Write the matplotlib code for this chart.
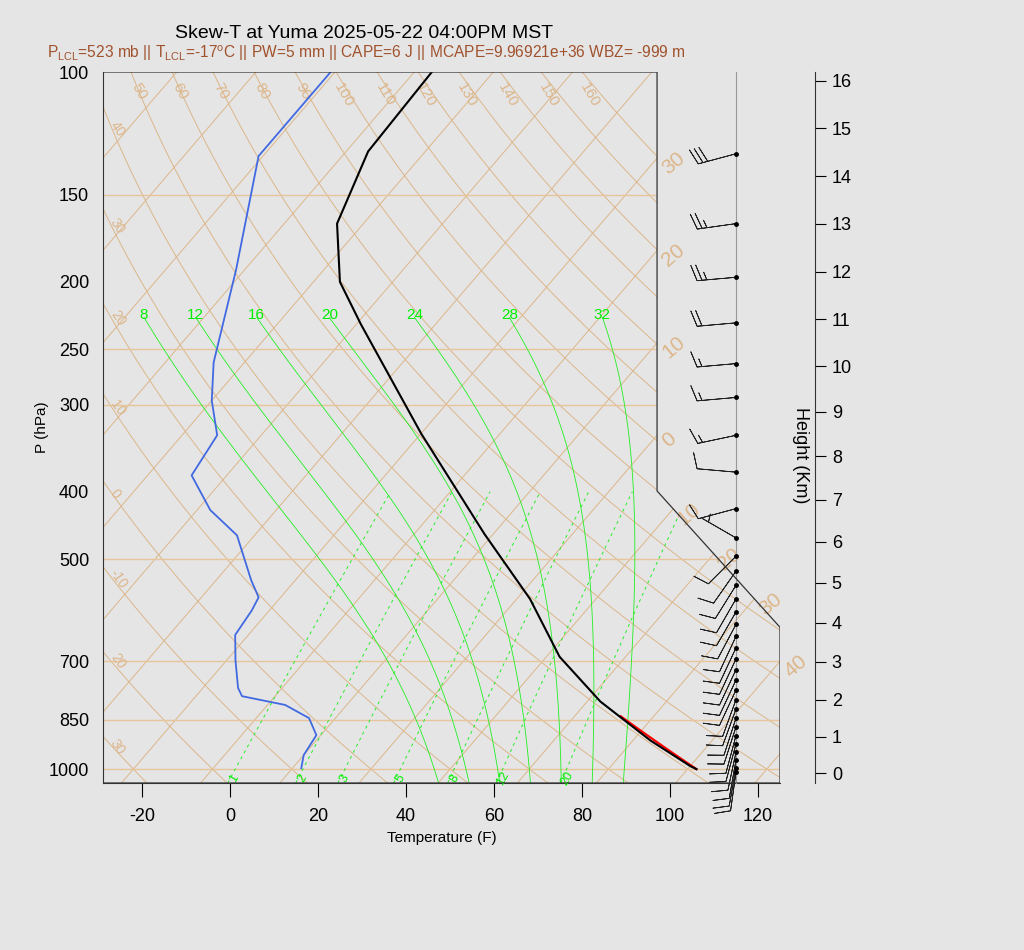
import numpy as np
import matplotlib
matplotlib.use("Agg")
import matplotlib.pyplot as plt
from matplotlib.patches import Polygon

plt.rcParams['font.family'] = ['Liberation Sans', 'DejaVu Sans']

# ---------------- data ----------------
temp_p = [100, 130, 165, 200, 230, 330, 460, 570, 690, 800, 910, 990, 1000]
temp_f = [-90, -89, -82, -70, -57, -22, 12, 35, 53, 71, 90, 104, 106]
dew_p = [100, 132, 192, 261, 296, 332, 379, 425, 462, 536, 567, 592, 642, 698, 765, 786, 809, 845, 894, 955, 997]
dew_f = [-113, -113, -96, -83, -76, -68, -66, -55, -44, -32, -27, -26, -25, -20, -14, -11.5, 0, 8, 13, 14, 16]
wind_p = [131, 165, 197, 229, 262, 293, 332, 375, 423, 466, 495, 520, 545, 570, 595, 620, 645, 670, 695, 720, 745, 770,
          795, 820, 845, 870, 895, 920, 945, 970, 995, 1010]
wind_spd = [30, 25, 25, 20, 15, 15, 15, 10, 10, 5, 10, 10, 10, 10, 10, 10, 10, 10, 10, 10, 10, 10,
            10, 10, 10, 10, 10, 10, 10, 10, 10, 10]
wind_dir = [255, 262, 265, 265, 265, 265, 258, 275, 255, 300, 225, 215, 212, 210, 210, 208, 205, 205, 205, 205, 205, 205,
            200, 200, 198, 198, 195, 195, 192, 190, 190, 188]
press_ticks = [100, 150, 200, 250, 300, 400, 500, 700, 850, 1000]
hline_p = [150, 250, 300, 500, 700, 850, 1000]
temp_ticks = [-20, 0, 20, 40, 60, 80, 100, 120]
height_km = list(range(0, 17))
theta_c = list(range(-30, 170, 10))
theta_top_labels = [50, 60, 70, 80, 90, 100, 110, 120, 130, 140, 150, 160]
theta_left_labels = {40: "40", 30: "30", 20: "20", 10: "10", 0: "0", -10: "-10", -20: "20", -30: "30"}
iso_c = list(range(-110, 60, 10))
iso_label_c = [-30, -20, -10, 0, 10, 20, 30, 40]
moist_c = [8, 12, 16, 20, 24, 28, 32]
mix_gkg = [1, 2, 3, 5, 8, 12, 20]

SK = 59.0
XMIN, XMAX = -28.9, 125.0
PBOT, PTOP = 1047.0, 100.0

def skx(tf, p):
    return np.asarray(tf) + SK * np.log(1000.0 / np.asarray(p))

def c2f(c):
    return np.asarray(c) * 9 / 5 + 32

fig = plt.figure(figsize=(10.24, 9.5), dpi=100, facecolor='#e5e5e5')
ax = fig.add_axes([103/1024, 1-783/950, 677/1024, 711/950])
ax.set_facecolor('#e5e5e5')
ax.set_yscale('log')
ax.set_xlim(XMIN, XMAX)
ax.set_ylim(PBOT, PTOP)

clip = Polygon([(XMIN, PTOP), (97.05, PTOP), (97.05, 399), (XMAX, 626), (XMAX, PBOT), (XMIN, PBOT)],
               closed=True, transform=ax.transData, facecolor='none', edgecolor='#333333', lw=0.9, zorder=6)
ax.add_patch(clip)

tan = '#dcb68a'
pp = np.geomspace(PTOP, PBOT, 200)
for c in iso_c:
    l, = ax.plot(skx(c2f(c), pp), pp, color=tan, lw=0.7, zorder=1)
    l.set_clip_path(clip)
for th in theta_c:
    T = (th + 273.15) * (pp / 1000.0) ** 0.2857 - 273.15
    l, = ax.plot(skx(c2f(T), pp), pp, color=tan, lw=0.7, zorder=1)
    l.set_clip_path(clip)
for p in hline_p:
    l = ax.axhline(p, color='#e8c49a', lw=1.0, zorder=1)
    l.set_clip_path(clip)

# theta labels
for th in theta_top_labels:
    T = (th + 273.15) * 0.1 ** 0.2857 - 273.15
    x = skx(c2f(T), 100)
    ax.text(x + 1.8, 103, str(th), color=tan, fontsize=11, rotation=-60, ha='center', va='top', zorder=2)
for th, s in theta_left_labels.items():
    xs = skx(c2f((th + 273.15) * (pp / 1000.0) ** 0.2857 - 273.15), pp)
    i = np.argmin(np.abs(xs - (XMIN + 2)))
    ax.text(XMIN + 1.0, pp[i], s, color=tan, fontsize=10, rotation=-55, ha='left', va='center', zorder=2)
# isotherm labels on right boundary
for c in iso_label_c:
    tf = c2f(c)
    best = None
    for p in np.geomspace(110, 1040, 2000):
        x = skx(tf, p)
        if p < 399:
            xb = 97.05
        elif p < 626:
            f = np.log(p / 399) / np.log(626 / 399)
            xb = 97.05 + f * (XMAX - 97.05)
        else:
            xb = XMAX
        if abs(x - xb) < 0.3:
            best = (xb, p)
            break
    if best:
        ax.text(best[0] + 0.3, best[1] * 1.02, str(abs(c)), color=tan, fontsize=15, rotation=40,
                ha='left', va='center', zorder=2)

# moist adiabats
def moist(t0c, plist):
    Rd, cp, Lv, eps = 287.04, 1005.7, 2.501e6, 0.622
    T = t0c + 273.15
    out = [T]
    for i in range(1, len(plist)):
        p0, p1 = plist[i-1], plist[i]
        n = 10
        dp = (p1 - p0) / n
        p = p0
        for _ in range(n):
            es = 6.112 * np.exp(17.67 * (T - 273.15) / (T - 29.65))
            rs = eps * es / (p - es)
            num = Rd * T + Lv * rs
            den = cp + Lv * Lv * rs * eps / (Rd * T * T)
            T += num / den / p * dp
            p += dp
        out.append(T)
    return np.array(out) - 273.15

pm = np.geomspace(1047, 225, 150)
green = '#22ee22'
for c in moist_c:
    T0 = moist(c, np.array([1000.0, 1047.0]))[-1]
    T = moist(T0, pm)
    l, = ax.plot(skx(c2f(T), pm), pm, color=green, lw=0.6, zorder=2)
    l.set_clip_path(clip)
    ax.text(skx(c2f(T[-1]), pm[-1]), 228, str(c), color='#00ee00', fontsize=11, ha='center', va='bottom')

# mixing ratio lines
pw = np.geomspace(1047, 400, 50)
for w in mix_gkg:
    e = w * pw / (622.0 + w)
    a = np.log(e / 6.112)
    td = 243.5 * a / (17.67 - a)
    l, = ax.plot(skx(c2f(td), pw), pw, color=green, lw=0.7, ls=(0, (3, 4)), zorder=2)
    l.set_clip_path(clip)
    ax.text(skx(c2f(td[0]), pw[0]) + 1.5, 1030, str(w), color='#00ee00', fontsize=9, rotation=60,
            ha='center', va='center')

# parcel (red)
pr = np.geomspace(1000, 840, 30)
Tr = ((106 - 32) * 5 / 9 + 273.15) * (pr / 1000.0) ** 0.2857 - 273.15
ax.plot(skx(c2f(Tr), pr), pr, color='red', lw=1.6, zorder=3)

ax.plot(skx(temp_f, temp_p), temp_p, color='black', lw=1.5, zorder=4)
ax.plot(skx(dew_f, dew_p), dew_p, color='#4169e1', lw=1.3, zorder=4)

# winds
xw = (736 - 230) / 4.4
ax.plot([xw, xw], [PTOP, PBOT], color='#999999', lw=0.8, zorder=3, clip_on=False)
d = np.radians(wind_dir)
u = -np.array(wind_spd) * np.sin(d)
v = -np.array(wind_spd) * np.cos(d)
ax.barbs(np.full(len(wind_p), xw), wind_p, u, v, length=7.5, pivot='tip', lw=0.6, color='#222222',
         zorder=5, clip_on=False)
ax.plot(np.full(len(wind_p), xw), wind_p, 'o', ms=2.5, color='black', zorder=6)

# axes cosmetics
for s in ['top', 'right']:
    ax.spines[s].set_visible(False)
ax.spines['left'].set_color('#333333')
ax.spines['bottom'].set_color('#333333')
ax.set_yticks(press_ticks)
ax.set_yticklabels([str(p) for p in press_ticks], fontsize=13)
ax.yaxis.set_minor_locator(matplotlib.ticker.NullLocator())
ax.set_xticks(temp_ticks)
ax.set_xticklabels([str(t) for t in temp_ticks], fontsize=13)
ax.tick_params(length=0, axis='y', pad=10)
ax.tick_params(axis='x', length=10, pad=8)
ax.set_xlabel('Temperature (F)', fontsize=11)
ax.set_ylabel('P (hPa)', fontsize=11, labelpad=0)

# height axis
ax2 = fig.add_axes([815/1024, 1-783/950, 0.0001, 711/950])
ax2.set_facecolor('none')
ax2.set_yscale('log')
ax2.set_ylim(PBOT, PTOP)
ax2.set_xticks([])
for s in ['top', 'bottom', 'left']:
    ax2.spines[s].set_visible(False)
ax2.spines['right'].set_color('#333333')
hp = []
for h in height_km:
    z = h * 1000.0
    if z <= 11000:
        hp.append(1013.25 * (1 - 2.25577e-5 * z) ** 5.2559)
    else:
        hp.append(226.32 * np.exp(-(z - 11000) / 6341.6))
ax2.yaxis.tick_right()
ax2.set_yticks(hp)
ax2.set_yticklabels([str(h) for h in height_km], fontsize=13)
ax2.yaxis.set_minor_locator(matplotlib.ticker.NullLocator())
ax2.tick_params(axis='y', length=8, pad=4)
fig.text(800/1024, 1-455/950, 'Height (Km)', rotation=-90, fontsize=13, ha='center', va='center')

fig.text(364/1024, 1-33/950, 'Skew-T at Yuma 2025-05-22 04:00PM MST', fontsize=14, ha='center', va='center')
fig.text(366/1024, 1-53/950,
         r'P$_{\mathregular{LCL}}$=523 mb || T$_{\mathregular{LCL}}$=-17$^{\mathregular{o}}$C || PW=5 mm || CAPE=6 J || MCAPE=9.96921e+36 WBZ= -999 m',
         fontsize=11.2, color='#a0522d', ha='center', va='center')

fig.savefig('out.png', dpi=100, facecolor=fig.get_facecolor())
